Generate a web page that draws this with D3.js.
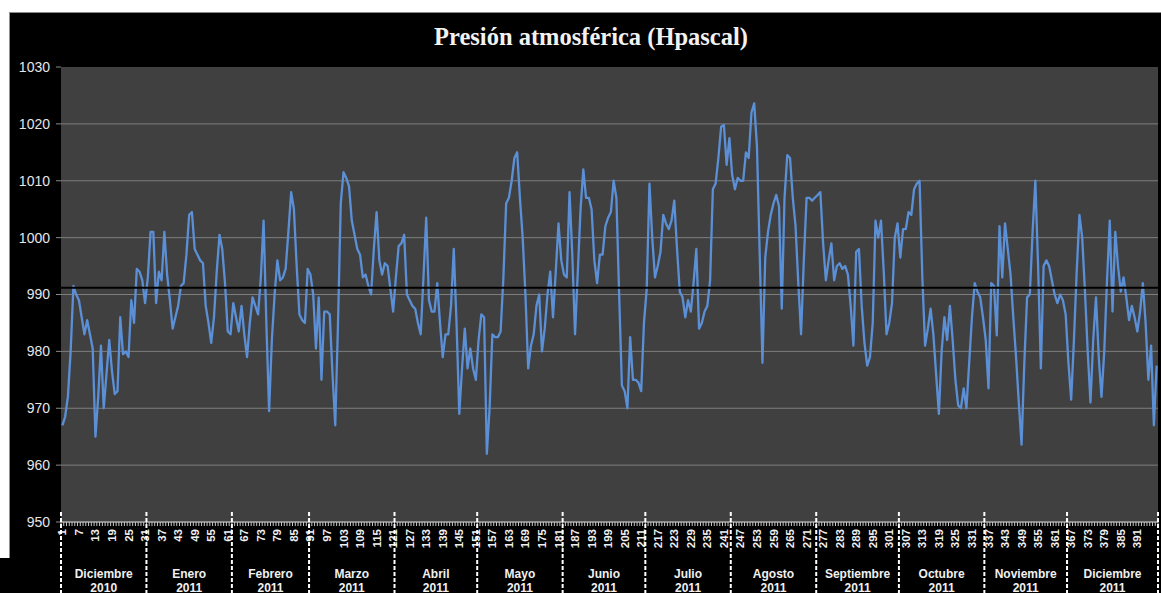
<!DOCTYPE html>
<html>
<head>
<meta charset="utf-8">
<script src="https://cdn.jsdelivr.net/npm/d3@7"></script>
<style>
body { margin: 0; background: #fff; }
svg { display: block; }
.titulo { font: bold 24.5px "Liberation Serif", "Times New Roman", serif; fill: #f2f2f2; }
.ylab { font: 14px "Liberation Sans", Arial, sans-serif; fill: #e6e6e6; }
.xlab { font: bold 11.5px "Liberation Sans", Arial, sans-serif; fill: #f0f0f0; }
.mes { font: bold 12px "Liberation Sans", Arial, sans-serif; fill: #f0f0f0; }
</style>
</head>
<body>
<script>
// presion diaria (hPa), 1 dic 2010 -> dic 2011
var presion = [
  967, 968.5, 972, 980, 991.5, 990, 989, 986, 983, 985.5,
  983, 980.5, 965, 972, 981, 970, 976, 982, 976.5, 972.5,
  973, 986, 979.5, 980, 979, 989, 985, 994.5, 994, 992.5,
  988.5, 993, 1001, 1001, 988.5, 994, 992.5, 1001, 993.5, 989,
  984, 986, 988, 991.5, 992, 997, 1004, 1004.5, 998, 997,
  996, 995.5, 988, 985, 981.5, 986, 994, 1000.5, 998, 992,
  983.5, 983, 988.5, 986, 983.5, 988, 983, 979, 985, 989.5,
  988, 986.5, 993, 1003, 985, 969.5, 982, 990, 996, 992.5,
  993, 994.5, 1001, 1008, 1005, 995, 986.5, 985.5, 985, 994.5,
  993.5, 990, 980.5, 989.5, 975, 987, 987, 986.5, 976, 967,
  985, 1006, 1011.5, 1010.5, 1009, 1003, 1000.5, 998, 997, 993,
  993.5, 991.5, 990, 998, 1004.5, 996, 993.5, 995.5, 995, 991,
  987, 993, 998.5, 999, 1000.5, 990, 989, 988, 987.5, 985,
  983, 993, 1003.5, 989, 987, 987, 992, 985, 979, 983,
  983, 988, 998, 985, 969, 977, 984, 977, 980.5, 977,
  975, 982, 986.5, 986, 962, 970, 983, 982.5, 982.5, 983.5,
  993, 1006, 1007, 1010, 1014, 1015, 1007, 1000, 990, 977,
  981, 983, 988, 990, 980, 984, 990, 994, 986, 994,
  1002.5, 996, 993.5, 993, 1008, 997, 983, 994, 1005, 1012,
  1007, 1007, 1005, 996, 992, 997, 997, 1002, 1003.5, 1004.5,
  1010, 1007, 990, 974, 973, 970, 982.5, 975, 975, 974.5,
  973, 985, 991, 1009.5, 1000, 993, 995, 997.5, 1004, 1002.5,
  1001.5, 1003, 1006.5, 998, 990.5, 989.5, 986, 989, 987, 992,
  998, 984, 985, 987, 988, 992.5, 1008.5, 1009.5, 1014, 1019.5,
  1019.8, 1012.8, 1017.5, 1011, 1008.5, 1010.5, 1010, 1010, 1015, 1014,
  1022, 1023.6, 1016, 997, 978, 996.5, 1001, 1004, 1006, 1007.5,
  1005.5, 987.5, 1007, 1014.5, 1014, 1007, 1002, 992, 983, 996,
  1007, 1007, 1006.5, 1007, 1007.5, 1008, 999, 992.5, 996, 999,
  992.5, 995, 995.5, 994.5, 995, 993.5, 988, 981, 997.5, 998,
  988, 981.5, 977.5, 979, 985, 1003, 1000, 1003, 994, 983,
  985, 988.5, 1000, 1002.5, 996.5, 1001.5, 1001.5, 1004.5, 1004, 1008.5,
  1009.5, 1010, 993, 981, 984, 987.5, 983, 976, 969, 980,
  986, 982, 988, 982, 975, 970.5, 970, 973.5, 970, 978,
  986, 992, 990.5, 989.5, 986, 982, 973.5, 992, 991.5, 982.8,
  1002, 993, 1002.5, 998, 993.5, 986, 979, 971, 963.6, 978,
  989.5, 990, 1001, 1010, 995, 977, 995, 996, 995, 992.5,
  990, 988.5, 990, 989, 986.5, 978, 971.5, 982, 994, 1004,
  1000, 990.5, 980, 971, 982, 989.5, 979, 972, 980, 992.5,
  1003, 987, 1001, 995, 990.5, 993, 989.5, 985.5, 988, 986,
  983.5, 987, 992, 985, 975, 981, 967, 977.5
];

var lineaMedia = 991.2;

var valoresY = [950, 960, 970, 980, 990, 1000, 1010, 1020, 1030];

var etiquetasX = [1, 7, 13, 19, 25, 31, 37, 43, 49, 55, 61, 67, 73, 79, 85, 91, 97,
  103, 109, 115, 121, 127, 133, 139, 145, 151, 157, 163, 169, 175, 181, 187, 193,
  199, 205, 211, 217, 223, 229, 235, 241, 247, 253, 259, 265, 271, 277, 283, 289,
  295, 301, 307, 313, 319, 325, 331, 337, 343, 349, 355, 361, 367, 373, 379, 385, 391];

var mesesNombre = ["Diciembre", "Enero", "Febrero", "Marzo", "Abril", "Mayo", "Junio",
  "Julio", "Agosto", "Septiembre", "Octubre", "Noviembre", "Diciembre"];
var mesesAnio = ["2010", "2011", "2011", "2011", "2011", "2011", "2011",
  "2011", "2011", "2011", "2011", "2011", "2011"];
var mesesDias = [31, 31, 28, 31, 30, 31, 30, 31, 31, 30, 31, 30, 31];

var width = 1161, height = 593;
var pLeft = 61, pRight = 1158, pTop = 67, pBottom = 522;

var svg = d3.select("body").append("svg")
  .attr("width", width)
  .attr("height", height);

// fondo negro del grafico
svg.append("rect")
  .attr("x", 9.5).attr("y", 12.5)
  .attr("width", width - 9).attr("height", height - 12)
  .attr("fill", "#000")
  .attr("stroke", "#8c8c8c");
svg.append("rect")
  .attr("x", 0).attr("y", 558)
  .attr("width", 12).attr("height", height - 558)
  .attr("fill", "#000");

svg.append("text")
  .attr("class", "titulo")
  .attr("x", 591).attr("y", 45)
  .attr("text-anchor", "middle")
  .text("Presión atmosférica (Hpascal)");

var n = presion.length;
var x = d3.scaleLinear().domain([0.5, n + 0.5]).range([pLeft, pRight]);
var y = d3.scaleLinear().domain([950, 1030]).range([pBottom, pTop]);

// area de trazado
svg.append("rect")
  .attr("x", pLeft).attr("y", pTop)
  .attr("width", pRight - pLeft).attr("height", pBottom - pTop)
  .attr("fill", "#404040");

// rejilla
svg.append("g").selectAll("line")
  .data(valoresY.filter(function(v) { return v > 950 && v < 1030; }))
  .enter().append("line")
  .attr("x1", pLeft).attr("x2", pRight)
  .attr("y1", function(d) { return y(d); })
  .attr("y2", function(d) { return y(d); })
  .attr("stroke", "#7d7d7d")
  .attr("stroke-width", 1);

// eje y
var gy = svg.append("g");
gy.selectAll("line")
  .data(valoresY)
  .enter().append("line")
  .attr("x1", pLeft - 5).attr("x2", pLeft)
  .attr("y1", function(d) { return y(d); })
  .attr("y2", function(d) { return y(d); })
  .attr("stroke", "#8a8a8a");
gy.selectAll("text")
  .data(valoresY)
  .enter().append("text")
  .attr("class", "ylab")
  .attr("x", 50)
  .attr("y", function(d) { return y(d); })
  .attr("dy", "0.35em")
  .attr("text-anchor", "end")
  .text(function(d) { return d; });

// serie
var linea = d3.line()
  .x(function(d, i) { return x(i + 1); })
  .y(function(d) { return y(d); });

svg.append("path")
  .datum(presion)
  .attr("d", linea)
  .attr("fill", "none")
  .attr("stroke", "#5b8fd6")
  .attr("stroke-width", 2.3)
  .attr("stroke-linejoin", "round");

// linea media
svg.append("line")
  .attr("x1", pLeft).attr("x2", pRight)
  .attr("y1", y(lineaMedia)).attr("y2", y(lineaMedia))
  .attr("stroke", "#000")
  .attr("stroke-width", 2);

// eje x
svg.append("line")
  .attr("x1", pLeft).attr("x2", pRight)
  .attr("y1", pBottom).attr("y2", pBottom)
  .attr("stroke", "#a8a8a8")
  .attr("stroke-width", 1.5);

svg.append("g").selectAll("line")
  .data(d3.range(0, n + 1))
  .enter().append("line")
  .attr("x1", function(d) { return x(d + 0.5); })
  .attr("x2", function(d) { return x(d + 0.5); })
  .attr("y1", pBottom).attr("y2", pBottom + 4)
  .attr("stroke", "#c8c8c8")
  .attr("stroke-width", 1);

svg.append("g").selectAll("text")
  .data(etiquetasX)
  .enter().append("text")
  .attr("class", "xlab")
  .attr("transform", function(d) { return "translate(" + x(d) + "," + (pBottom + 7) + ") rotate(-90)"; })
  .attr("dy", "0.35em")
  .attr("text-anchor", "end")
  .text(function(d) { return d; });

// separadores de meses
var limites = [0];
mesesDias.forEach(function(m, i) { limites.push(limites[i] + m); });
var xLim = limites.map(function(l, i) {
  return i === limites.length - 1 ? pRight : x(l + 0.5);
});

svg.append("g").selectAll("line")
  .data(xLim)
  .enter().append("line")
  .attr("x1", function(d) { return d; })
  .attr("x2", function(d) { return d; })
  .attr("y1", pBottom - 10).attr("y2", height)
  .attr("stroke", "#fff")
  .attr("stroke-width", 2)
  .attr("stroke-dasharray", "4,2");

var gm = svg.append("g");
mesesNombre.forEach(function(m, i) {
  var cx = (xLim[i] + xLim[i + 1]) / 2;
  gm.append("text").attr("class", "mes")
    .attr("x", cx).attr("y", 578)
    .attr("text-anchor", "middle")
    .text(m);
  gm.append("text").attr("class", "mes")
    .attr("x", cx).attr("y", 592)
    .attr("text-anchor", "middle")
    .text(mesesAnio[i]);
});
</script>
</body>
</html>
